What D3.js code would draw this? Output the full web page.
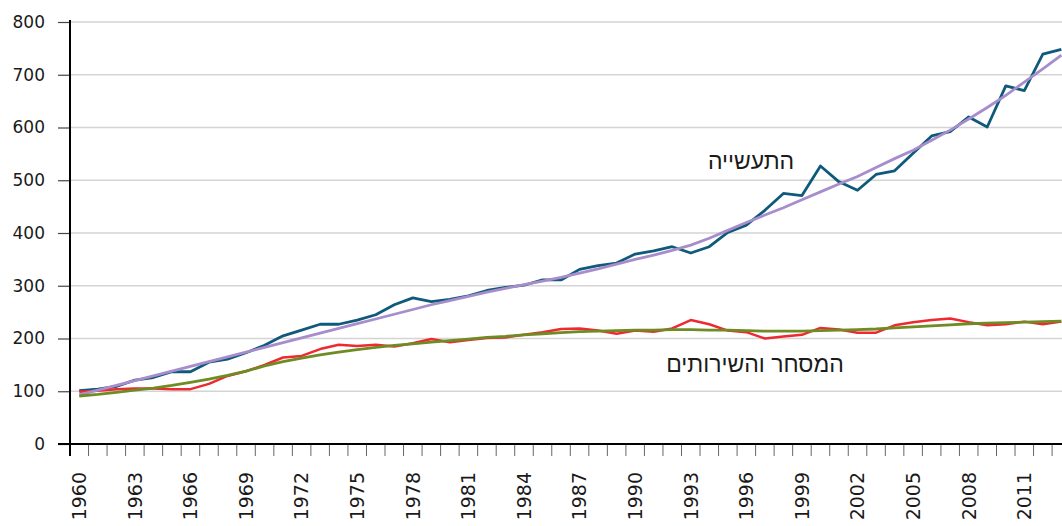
<!DOCTYPE html>
<html><head><meta charset="utf-8">
<script src="https://cdn.jsdelivr.net/npm/d3@7"></script>
<style>
body{margin:0;background:#fff;}
svg{display:block;}
text{font-family:"DejaVu Sans",sans-serif;fill:#1a1a1a;}
.heb{font-family:"Liberation Sans",Arial,sans-serif;}
</style></head>
<body><svg id="c" width="1062" height="526"></svg>
<script>
(function(){
const years = d3.range(1960, 2014);
const industry = [101,104,109,121,126,137,137,155,161,173,187,205,216,227,227,235,245,264,277,270,
  274,281,291,297,301,311,311,331,338,343,360,366,374,362,374,401,415,443,475,471,
  527,497,481,511,518,551,584,592,620,601,679,670,739,748];
const commerce = [99,101,104,105,105,104,104,114,129,138,150,164,167,180,188,186,188,185,191,199,
  193,197,201,202,207,212,218,219,215,209,215,213,219,235,227,215,212,200,204,207,
  220,217,211,211,225,231,235,238,231,225,227,232,227,232];
const industryTrend = [93,102,111,120,129,138,147,156,165,174,183,192,201,210,219,228,237,246,255,264,
  272,280,288,295,302,309,316,324,332,341,350,358,367,377,390,405,420,434,448,463,
  478,493,507,524,541,557,576,595,616,638,661,686,711,737];
const commerceTrend = [91,94,98,102,106,111,117,123,130,138,148,156,163,169,174,179,183,187,190,193,
  196,199,202,204,207,209,211,213,214,215,216,216,217,217,216,216,215,214,214,214,
  215,216,217,218,220,222,224,226,228,229,230,231,232,233];
const yTicks = [0,100,200,300,400,500,600,700,800];
const xLabelYears = d3.range(1960, 2014, 3);
const labelIndustry = "התעשייה";
const labelCommerce = "המסחר והשירותים";

const svg = d3.select("#c");
const mLeft = 70, mTop = 22, mBottom = 444;
const step = 18.53;
const x = d3.scaleBand().domain(years).range([mLeft, mLeft + step * years.length]).padding(0);
const y = d3.scaleLinear().domain([0, 800]).range([mBottom, mTop]);
const cx = d => x(d) + x.bandwidth() / 2;

svg.append("g").selectAll("line").data(yTicks.filter(d => d > 0)).join("line")
  .attr("x1", mLeft).attr("x2", 1062).attr("y1", d => y(d)).attr("y2", d => y(d))
  .attr("stroke", "#d4d4d4").attr("stroke-width", 1.5);

const yAxis = svg.append("g").attr("transform", `translate(${mLeft},0)`)
  .call(d3.axisLeft(y).tickValues(yTicks).tickSize(12).tickPadding(13));
yAxis.select(".domain").remove();
yAxis.selectAll(".tick line").attr("stroke", "#444").attr("stroke-width", 1.2);
yAxis.selectAll("text").attr("font-size", 17).attr("fill", "#1a1a1a").style("font-family", "DejaVu Sans");

const bounds = d3.range(0, years.length + 1).map(i => mLeft + i * step).filter(v => v <= 1062);
svg.append("g").selectAll("line").data(bounds).join("line")
  .attr("x1", d => d).attr("x2", d => d).attr("y1", mBottom).attr("y2", mBottom + 12)
  .attr("stroke", "#666").attr("stroke-width", 1);
svg.append("line").attr("x1", mLeft - 12).attr("x2", 1062).attr("y1", mBottom).attr("y2", mBottom)
  .attr("stroke", "#000").attr("stroke-width", 2);
svg.append("line").attr("x1", mLeft).attr("x2", mLeft).attr("y1", mTop - 2).attr("y2", mBottom + 12)
  .attr("stroke", "#000").attr("stroke-width", 2);

svg.append("g").selectAll("text").data(xLabelYears).join("text")
  .attr("transform", d => `translate(${cx(d)},${mBottom + 28}) rotate(-90)`)
  .attr("text-anchor", "end").attr("dy", "0.36em")
  .attr("font-size", 19).text(d => d);

const line = vals => d3.line().x((v, i) => cx(years[i])).y(v => y(v))(vals);
svg.append("path").attr("d", line(industry)).attr("fill", "none").attr("stroke", "#0f5a7a").attr("stroke-width", 2.8).attr("stroke-linejoin", "round");
svg.append("path").attr("d", line(commerce)).attr("fill", "none").attr("stroke", "#ee2a30").attr("stroke-width", 2.5).attr("stroke-linejoin", "round");
svg.append("path").attr("d", line(industryTrend)).attr("fill", "none").attr("stroke", "#a78dcc").attr("stroke-width", 2.8);
svg.append("path").attr("d", line(commerceTrend)).attr("fill", "none").attr("stroke", "#6e8b24").attr("stroke-width", 2.8);

svg.append("text").attr("class", "heb").attr("x", 751).attr("y", 169).attr("text-anchor", "middle")
  .attr("font-size", 23).attr("direction", "rtl").text(labelIndustry);
svg.append("text").attr("class", "heb").attr("x", 755).attr("y", 372).attr("text-anchor", "middle")
  .attr("font-size", 23).attr("direction", "rtl").text(labelCommerce);
})();
</script></body></html>
